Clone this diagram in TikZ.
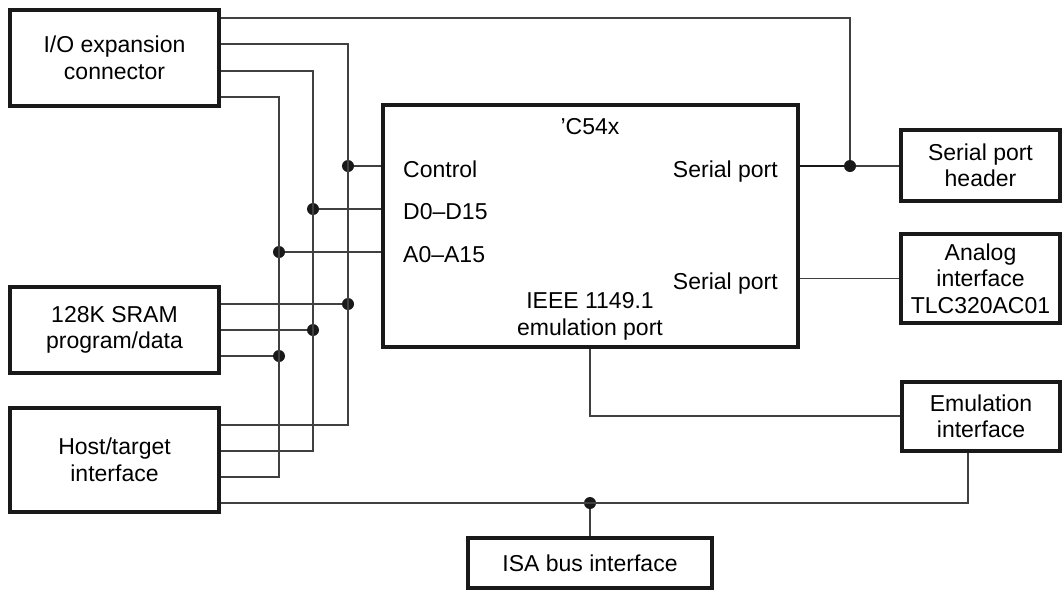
\documentclass[tikz,border=0pt]{standalone}
\usepackage{fontspec}
\setmainfont{Liberation Sans}
\begin{document}
\begin{tikzpicture}[x=1pt,y=-1pt,
  box/.style={draw=black!90,line width=3.2pt,rectangle,align=center,inner sep=0pt,
    font=\fontsize{23}{26.5}\selectfont},
  lbl/.style={inner sep=0pt,font=\fontsize{23}{26.5}\selectfont},
  wire/.style={draw=black!75,line width=1.1pt},
  thickwire/.style={draw=black!90,line width=2.2pt},
  dot/.style={circle,fill=black!90,inner sep=0pt,minimum size=12pt}]
\useasboundingbox (0,0) rectangle (1063,590);
% boxes
\node[box,minimum width=209pt,minimum height=96pt] (io) at (114.5,58) {I/O expansion\\connector};
\node[box,minimum width=209pt,minimum height=86pt] (sram) at (114.5,330) {128K SRAM\\program/data};
\node[box,minimum width=209pt,minimum height=104pt] (host) at (114.5,460) {Host/target\\interface};
\node[box,minimum width=415pt,minimum height=242pt] (c54) at (590.5,226) {};
\node[box,minimum width=159pt,minimum height=71pt] (sph) at (980.5,165.5) {Serial port\\header};
\node[box,minimum width=159pt,minimum height=89pt] (ana) at (980.5,278.5) {Analog\\interface\\TLC320AC01};
\node[box,minimum width=158pt,minimum height=69pt] (emu) at (981,416.5) {Emulation\\interface};
\node[box,minimum width=244pt,minimum height=50pt] (isa) at (590,563) {ISA bus interface};
% labels inside C54x
\node[lbl,anchor=base] (lc54) at (590,134) {’C54x};
\node[lbl,anchor=base west] (lctl) at (403,177) {Control};
\node[lbl,anchor=base west] (ld) at (403,219) {D0–D15};
\node[lbl,anchor=base west] (la) at (403,262) {A0–A15};
\node[lbl,anchor=base east] (lsp1) at (778,177) {Serial port};
\node[lbl,anchor=base east] (lsp2) at (778,289) {Serial port};
\node[lbl,anchor=base] (lieee) at (590,308) {IEEE 1149.1};
\node[lbl,anchor=base] (lemu) at (590,335) {emulation port};
% junction dots
\node[dot] (dC) at (348,166) {};
\node[dot] (dD) at (313,209) {};
\node[dot] (dA) at (279,252) {};
\node[dot] (sC) at (348,304) {};
\node[dot] (sD) at (313,330) {};
\node[dot] (sA) at (279,356) {};
\node[dot] (dS) at (850,166) {};
\node[dot] (dI) at (590,503) {};
% corner coordinates
\coordinate (ctop) at (850,18);
\coordinate (tC) at (348,44);
\coordinate (bC) at (348,425);
\coordinate (tD) at (313,71);
\coordinate (bD) at (313,451);
\coordinate (tA) at (279,97);
\coordinate (bA) at (279,477);
\coordinate (eC) at (590,416);
\coordinate (bE) at (968,503);
% buses
\draw[wire] (io.east |- tC) -- (tC) -- (bC) -- (host.east |- bC);
\draw[wire] (io.east |- tD) -- (tD) -- (bD) -- (host.east |- bD);
\draw[wire] (io.east |- tA) -- (tA) -- (bA) -- (host.east |- bA);
\draw[wire] (dC) -- (c54.west |- dC);
\draw[wire] (dD) -- (c54.west |- dD);
\draw[wire] (dA) -- (c54.west |- dA);
\draw[wire] (sram.east |- sC) -- (sC);
\draw[wire] (sram.east |- sD) -- (sD);
\draw[wire] (sram.east |- sA) -- (sA);
% serial ports
\draw[wire] (io.east |- ctop) -- (ctop) -- (dS);
\draw[thickwire] (c54.east |- dS) -- (dS);
\draw[wire] (dS) -- (sph.west |- dS);
\draw[wire] (c54.east |- ana.west) -- (ana.west);
% emulation
\draw[wire] (c54.south -| eC) -- (eC) -- (emu.west |- eC);
\draw[wire] (host.east |- bE) -- (bE) -- (emu.south -| bE);
\draw[wire] (dI) -- (isa.north -| dI);
\end{tikzpicture}
\end{document}
